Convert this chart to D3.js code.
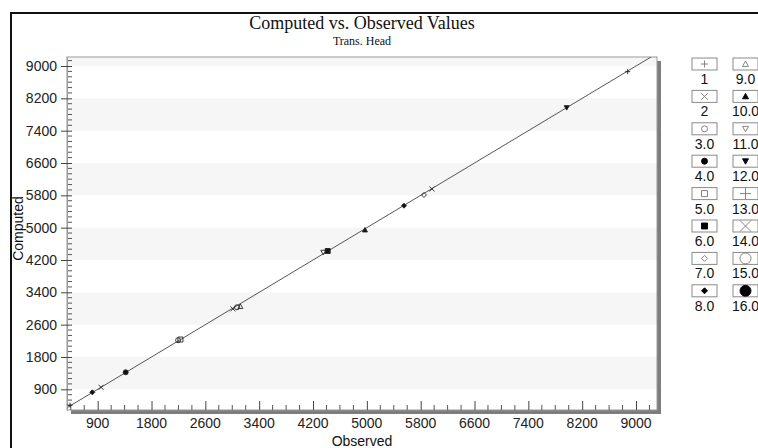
<!DOCTYPE html>
<html>
<head>
<meta charset="utf-8">
<script src="https://cdn.jsdelivr.net/npm/d3@7"></script>
<style>
  body { margin: 0; background: #fff; }
  text { font-family: "Liberation Sans", Arial, sans-serif; }
</style>
</head>
<body>
<div id="chart"></div>
<script>
// data
var seriesLabels = ["1", "2", "3.0", "4.0", "5.0", "6.0", "7.0", "8.0",
                    "9.0", "10.0", "11.0", "12.0", "13.0", "14.0", "15.0", "16.0"];
var pointGroup    = [1, 8, 2, 4, 3, 5, 2, 3, 9, 11, 6, 10, 8, 7, 2, 12, 1];
var observedVals  = [590, 920, 1050, 1416, 2195, 2230, 3010, 3070, 3120, 4353, 4418, 4972, 5552, 5849, 5968, 7970, 8876];
var computedVals  = [610, 926, 1050, 1421, 2215, 2232, 2990, 3030, 3050, 4390, 4422, 4943, 5544, 5809, 5958, 7970, 8861];
var tickValues = [1000, 1800, 2600, 3400, 4200, 5000, 5800, 6600, 7400, 8200, 9000];
var tickLabels = ["900", "1800", "2600", "3400", "4200", "5000", "5800", "6600", "7400", "8200", "9000"];

// symbol style per series
var shapes = ["plus", "cross", "circle", "circle", "square", "square", "diamond", "diamond",
              "triangle", "triangle", "triangleDown", "triangleDown", "plus", "cross", "circle", "circle"];
var filled = [false, false, false, true, false, true, false, true,
              false, true, false, true, false, false, false, true];

var total_width = 758, total_height = 448;
var margin = {top: 57, right: 101, bottom: 38, left: 67},
    width = total_width - margin.left - margin.right,
    height = total_height - margin.top - margin.bottom;

var svg = d3.select("#chart").append("svg")
    .attr("width", total_width)
    .attr("height", total_height);

// outer frame
svg.append("rect")
    .attr("x", 11).attr("y", 13)
    .attr("width", 900).attr("height", 600)
    .attr("fill", "none")
    .attr("stroke", "#111")
    .attr("stroke-width", 2);

var x = d3.scaleLinear().domain([544, 9312]).range([0, width]);
var y = d3.scaleLinear().domain([488, 9223]).range([height, 0]);

function symbolPath(type, r) {
  if (type == "plus") return "M" + (-r) + ",0H" + r + "M0," + (-r) + "V" + r;
  if (type == "cross") return "M" + (-r) + "," + (-r) + "L" + r + "," + r + "M" + (-r) + "," + r + "L" + r + "," + (-r);
  if (type == "circle") return d3.symbol().type(d3.symbolCircle).size(Math.PI * r * r)();
  if (type == "square") return "M" + (-r) + "," + (-r) + "H" + r + "V" + r + "H" + (-r) + "Z";
  if (type == "diamond") return "M0," + (-r) + "L" + r + ",0L0," + r + "L" + (-r) + ",0Z";
  if (type == "triangle") return "M0," + (-r) + "L" + r + "," + (r * 0.8) + "L" + (-r) + "," + (r * 0.8) + "Z";
  if (type == "triangleDown") return "M0," + r + "L" + r + "," + (-r * 0.8) + "L" + (-r) + "," + (-r * 0.8) + "Z";
}

// title
svg.append("text")
    .attr("x", margin.left + width / 2).attr("y", 29)
    .attr("text-anchor", "middle")
    .style("font-family", "'Liberation Serif', 'Times New Roman', serif")
    .style("font-size", "18px")
    .attr("fill", "#111")
    .text("Computed vs. Observed Values");
svg.append("text")
    .attr("x", margin.left + width / 2).attr("y", 45)
    .attr("text-anchor", "middle")
    .style("font-family", "'Liberation Serif', 'Times New Roman', serif")
    .style("font-size", "12px")
    .attr("fill", "#111")
    .text("Trans. Head");

var g = svg.append("g")
    .attr("transform", "translate(" + margin.left + "," + margin.top + ")");

// shadow
g.append("rect")
    .attr("x", 4).attr("y", 4)
    .attr("width", width).attr("height", height)
    .attr("fill", "#7d7d7d");
g.append("rect")
    .attr("width", width).attr("height", height)
    .attr("fill", "#fff");

// alternating bands
var bandStarts = d3.range(1000, 9223, 1600);
g.append("g").selectAll("rect")
    .data(bandStarts)
    .enter().append("rect")
      .attr("x", 0)
      .attr("width", width)
      .attr("y", d => y(Math.min(d + 800, 9223)))
      .attr("height", d => y(d) - y(Math.min(d + 800, 9223)))
      .attr("fill", "#f6f6f6");

g.append("rect")
    .attr("width", width).attr("height", height)
    .attr("fill", "none")
    .attr("stroke", "#9a9a9a")
    .attr("stroke-width", 1);

g.append("clipPath").attr("id", "plotclip")
  .append("rect").attr("width", width).attr("height", height);

// 1:1 line
g.append("line")
    .attr("clip-path", "url(#plotclip)")
    .attr("x1", x(488)).attr("y1", y(488))
    .attr("x2", x(9312)).attr("y2", y(9312))
    .attr("stroke", "#555")
    .attr("stroke-width", 1);

// x axis ticks (pointing up) and labels
var xMinor = d3.range(600, 9312, 200).filter(d => (d - 1000) % 800 != 0);
g.append("g").selectAll("line")
    .data(xMinor)
    .enter().append("line")
      .attr("x1", d => x(d)).attr("x2", d => x(d))
      .attr("y1", height).attr("y2", height - 5)
      .attr("stroke", "#555");
var xAxis = g.append("g")
    .attr("transform", "translate(0," + height + ")")
    .call(d3.axisTop(x).tickValues(tickValues).tickSize(9).tickFormat(""));
xAxis.select(".domain").remove();
xAxis.selectAll("line").attr("stroke", "#444");
g.append("g").selectAll("text")
    .data(tickValues)
    .enter().append("text")
      .attr("x", d => x(d))
      .attr("y", height + 18)
      .attr("text-anchor", "middle")
      .style("font-size", "14px")
      .attr("fill", "#222")
      .text((d, i) => tickLabels[i]);

// y axis
var yMinor = d3.range(-3, 64).map(k => 1000 + k * 800 / 6).filter((d, i) => (i % 6) != 3 && d < 9223);
g.append("g").selectAll("line")
    .data(yMinor)
    .enter().append("line")
      .attr("x1", 0).attr("x2", 5)
      .attr("y1", d => y(d)).attr("y2", d => y(d))
      .attr("stroke", "#555");
var yAxis = g.append("g")
    .call(d3.axisLeft(y).tickValues(tickValues).tickSizeInner(6).tickSizeOuter(0)
          .tickPadding(4).tickFormat((d, i) => tickLabels[i]));
yAxis.select(".domain").attr("stroke", "#9a9a9a");
yAxis.selectAll(".tick line").attr("x2", 5).attr("x1", -6).attr("stroke", "#444");
yAxis.selectAll("text")
    .style("font-family", "'Liberation Sans', Arial, sans-serif")
    .style("font-size", "14px")
    .attr("fill", "#222");

// axis titles
svg.append("text")
    .attr("x", margin.left + width / 2).attr("y", 446)
    .attr("text-anchor", "middle")
    .style("font-size", "14px")
    .attr("fill", "#111")
    .text("Observed");
svg.append("text")
    .attr("transform", "translate(23," + (margin.top + height / 2 - 5) + ") rotate(-90)")
    .attr("text-anchor", "middle")
    .style("font-size", "14px")
    .attr("fill", "#111")
    .text("Computed");

// points
var pts = observedVals.map((d, i) => ({obs: d, comp: computedVals[i], s: pointGroup[i] - 1}));
g.append("g").selectAll("path")
    .data(pts)
    .enter().append("path")
      .attr("transform", d => "translate(" + x(d.obs) + "," + y(d.comp) + ")")
      .attr("d", d => symbolPath(shapes[d.s], d.s >= 12 ? 4 : 2.5))
      .attr("fill", d => filled[d.s] ? "#111" : "none")
      .attr("stroke", "#222")
      .attr("stroke-width", 0.9);

// legend
var legend = svg.append("g");
var items = legend.selectAll("g")
    .data(seriesLabels)
    .enter().append("g")
      .attr("transform", (d, i) => "translate(" + (692 + Math.floor(i / 8) * 41) + "," + (58 + (i % 8) * 32.4) + ")");
items.append("rect")
    .attr("width", 25).attr("height", 12)
    .attr("fill", "#fff")
    .attr("stroke", "#8a8a8a");
items.append("path")
    .attr("transform", "translate(12.5,6)")
    .attr("d", (d, i) => symbolPath(shapes[i], i >= 12 ? 5.5 : (shapes[i] == "plus" || shapes[i] == "cross" ? 3.5 : 3)))
    .attr("fill", (d, i) => filled[i] ? "#000" : "none")
    .attr("stroke", (d, i) => filled[i] ? "#000" : "#777")
    .attr("stroke-width", 0.9);
items.append("text")
    .attr("x", 12.5).attr("y", 26)
    .attr("text-anchor", "middle")
    .style("font-size", "14px")
    .attr("fill", "#111")
    .text(d => d);
</script>
</body>
</html>
